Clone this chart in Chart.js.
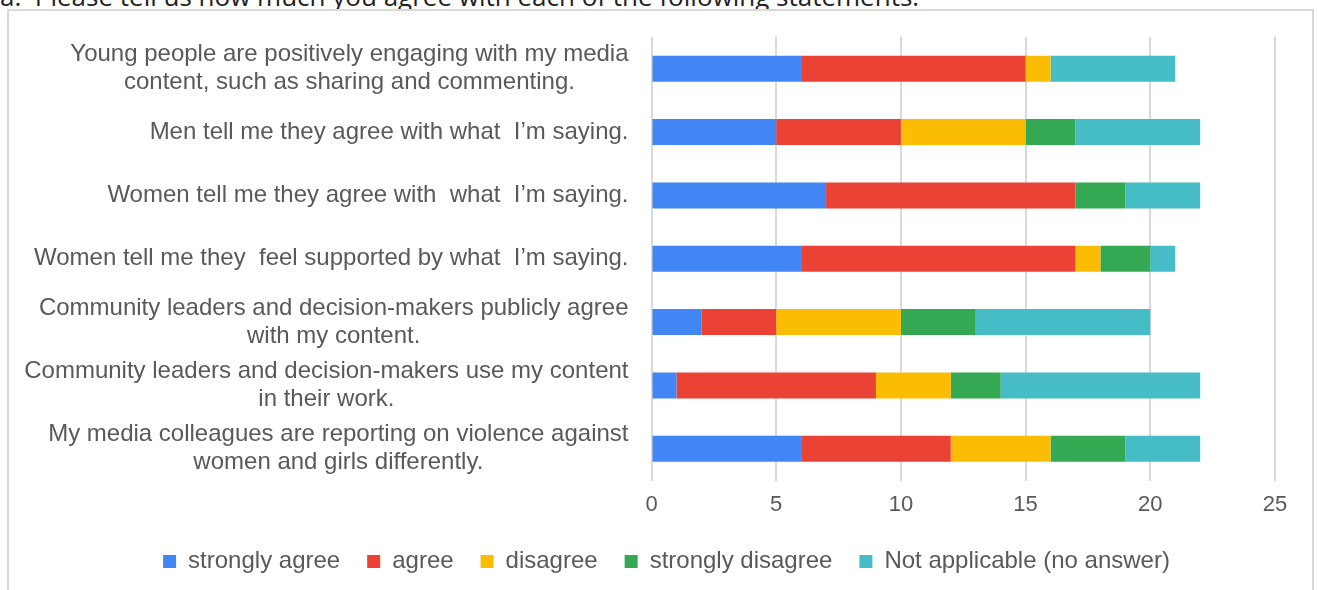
<!DOCTYPE html>
<html>
<head>
    <title>Media content survey</title>
    <script src="https://cdn.jsdelivr.net/npm/chart.js@4/dist/chart.umd.min.js"></script>
    <style>
        body {
            margin: 0;
            width: 1318px;
            height: 590px;
            overflow: hidden;
            background: #fff;
            position: relative;
        }

        #question {
            position: absolute;
            left: 0;
            top: -22px;
            font-family: "Open Sans", sans-serif;
            font-size: 26px;
            color: #222;
            white-space: nowrap;
        }

        #frame {
            position: absolute;
            left: 7px;
            top: 9px;
            width: 1303px;
            height: 620px;
            border: 2px solid #d9d9d9;
            background: #fff;
        }

        #chartBox {
            position: absolute;
            left: 1px;
            top: 0;
            width: 1302px;
            height: 600px;
        }
    </style>
</head>
<body>
    <div id="question">a.&nbsp; Please tell us how much you agree with each of the following statements.</div>
    <div id="frame">
        <div id="chartBox"><canvas id="surveyChart"></canvas></div>
    </div>

    <script>
        const statements = [
            ['Young people are positively engaging with my media', 'content, such as sharing and commenting.'],
            ['Men tell me they agree with what  I\u2019m saying.'],
            ['Women tell me they agree with  what  I\u2019m saying.'],
            ['Women tell me they  feel supported by what  I\u2019m saying.'],
            ['Community leaders and decision-makers publicly agree', 'with my content.'],
            ['Community leaders and decision-makers use my content', 'in their work.'],
            ['My media colleagues are reporting on violence against', 'women and girls differently.']
        ];

        const stronglyAgree    = [6, 5, 7, 6, 2, 1, 6];
        const agree            = [9, 5, 10, 11, 3, 8, 6];
        const disagree         = [1, 5, 0, 1, 5, 3, 4];
        const stronglyDisagree = [0, 2, 2, 2, 3, 2, 3];
        const notApplicable    = [5, 5, 3, 1, 7, 8, 3];

        const xTicks = [0, 5, 10, 15, 20, 25];

        const textColor = '#595959';
        const labelFont = 'Liberation Sans, Arial, sans-serif';

        // category labels: the block is right aligned, lines centred inside it
        const statementLabels = {
            id: 'statementLabels',
            afterLayout(chart) {
                // legend row sits a little right of the canvas centre
                chart.legend.left += 24;
                chart.legend.right += 24;
            },
            afterDraw(chart) {
                const ctx = chart.ctx;
                const yScale = chart.scales.y;
                const right = yScale.right - 23;
                const lineHeight = 28;
                ctx.save();
                ctx.font = '24px ' + labelFont;
                ctx.fillStyle = textColor;
                ctx.textAlign = 'center';
                ctx.textBaseline = 'middle';
                statements.forEach((lines, i) => {
                    const yc = yScale.getPixelForTick(i);
                    const w = Math.max(...lines.map(l => ctx.measureText(l).width));
                    const xc = right - w / 2;
                    const y0 = yc - (lines.length - 1) * lineHeight / 2;
                    lines.forEach((l, j) => ctx.fillText(l, xc, y0 + j * lineHeight));
                });
                ctx.restore();
            }
        };

        const ctx = document.getElementById('surveyChart').getContext('2d');

        const series = [
            { label: 'strongly agree', data: stronglyAgree, color: '#4285F4' },
            { label: 'agree', data: agree, color: '#EA4335' },
            { label: 'disagree', data: disagree, color: '#FBBC04' },
            { label: 'strongly disagree', data: stronglyDisagree, color: '#34A853' },
            { label: 'Not applicable (no answer)', data: notApplicable, color: '#46BDC6' }
        ];

        new Chart(ctx, {
            type: 'bar',
            data: {
                labels: statements,
                datasets: series.map(s => ({
                    label: s.label,
                    data: s.data,
                    backgroundColor: s.color,
                    borderWidth: 0,
                    barPercentage: 0.41,
                    categoryPercentage: 1
                }))
            },
            options: {
                indexAxis: 'y',
                responsive: true,
                maintainAspectRatio: false,
                animation: false,
                layout: {
                    padding: { top: 26, right: 37, bottom: 27.5, left: 0 }
                },
                scales: {
                    x: {
                        stacked: true,
                        min: 0,
                        max: 25,
                        afterBuildTicks: scale => {
                            scale.ticks = xTicks.map(v => ({ value: v }));
                        },
                        afterFit: scale => { scale.height = 42; },
                        grid: {
                            color: '#d9d9d9',
                            lineWidth: 2,
                            drawTicks: false
                        },
                        border: { display: false },
                        ticks: {
                            padding: 11,
                            color: textColor,
                            font: { family: labelFont, size: 22 }
                        }
                    },
                    y: {
                        stacked: true,
                        afterFit: scale => { scale.width = 641.5; },
                        grid: { display: false },
                        border: { display: false },
                        ticks: { display: false }
                    }
                },
                plugins: {
                    tooltip: { enabled: false },
                    legend: {
                        position: 'bottom',
                        labels: {
                            boxWidth: 13,
                            boxHeight: 13,
                            padding: 27,
                            color: textColor,
                            font: { family: labelFont, size: 24 }
                        }
                    }
                }
            },
            plugins: [statementLabels]
        });
    </script>
</body>
</html>
